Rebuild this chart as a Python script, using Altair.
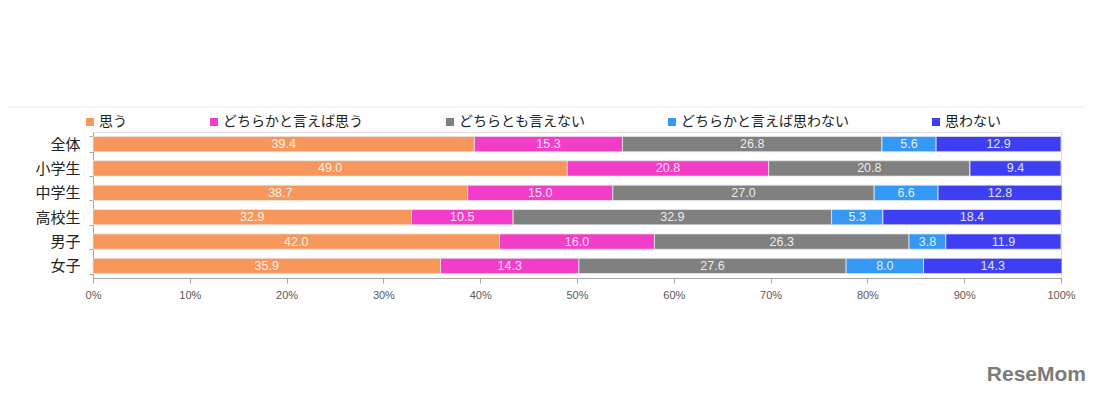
import altair as alt
import pandas as pd

groups = ["全体", "小学生", "中学生", "高校生", "男子", "女子"]
series = ["思う", "どちらかと言えば思う", "どちらとも言えない", "どちらかと言えば思わない", "思わない"]
colors = ["#F7975C", "#F23DC8", "#808080", "#3598F4", "#3E3FF2"]

v_omou = [39.4, 49.0, 38.7, 32.9, 42.0, 35.9]
v_dochira_omou = [15.3, 20.8, 15.0, 10.5, 16.0, 14.3]
v_dochiratomo = [26.8, 20.8, 27.0, 32.9, 26.3, 27.6]
v_dochira_omowanai = [5.6, 0.0, 6.6, 5.3, 3.8, 8.0]
v_omowanai = [12.9, 9.4, 12.8, 18.4, 11.9, 14.3]

all_values = [v_omou, v_dochira_omou, v_dochiratomo, v_dochira_omowanai, v_omowanai]

rows = []
for si, (s, vals) in enumerate(zip(series, all_values)):
    for g, v in zip(groups, vals):
        rows.append({"group": g, "series": s, "order": si, "value": v})
df = pd.DataFrame(rows)

base = alt.Chart(df).transform_stack(
    stack="value", groupby=["group"], as_=["x0", "x1"],
    sort=[alt.SortField("order", order="ascending")]
).transform_calculate(mid="(datum.x0 + datum.x1) / 2")

yenc = alt.Y("group:N", sort=groups, title=None,
             scale=alt.Scale(paddingInner=0.37, paddingOuter=0.18),
             axis=alt.Axis(tickBand="extent", labelFont="Noto Sans CJK JP",
                           labelFontSize=15, labelColor="#222222",
                           labelPadding=9, tickSize=4, tickColor="#a6a6a6",
                           domainColor="#a6a6a6"))

bars = base.mark_bar(stroke="#e6e6e6", strokeWidth=0.8).encode(
    x=alt.X("x0:Q", title=None,
            scale=alt.Scale(domain=[0, 100], nice=False),
            axis=alt.Axis(values=list(range(0, 101, 10)),
                          labelExpr="datum.value + '%'", grid=False, labelFlush=False,
                          labelFont="Liberation Sans", labelFontSize=11,
                          labelColor="#595959", labelPadding=6,
                          tickSize=5, tickColor="#a6a6a6", domainColor="#a6a6a6")),
    x2="x1:Q",
    y=yenc,
    color=alt.Color("series:N", sort=series,
                    scale=alt.Scale(domain=series, range=colors),
                    legend=alt.Legend(title=None, orient="none", legendX=-10, legendY=-17,
                                      direction="horizontal", symbolType="square",
                                      symbolSize=64, symbolStrokeWidth=0,
                                      labelFont="Noto Sans CJK JP", labelFontSize=14,
                                      labelColor="#222222", labelOffset=2,
                                      labelLimit=400, columnPadding=80, padding=0)),
)

labels = base.transform_filter("datum.value > 0").mark_text(
    color="white", opacity=0.85, font="Liberation Sans", fontSize=12.5, baseline="middle"
).encode(
    x="mid:Q",
    y=alt.Y("group:N", sort=groups),
    text=alt.Text("value:Q", format=".1f"),
)

topline = alt.Chart(pd.DataFrame({"k": [0]})).mark_rule(color="#ececec", strokeWidth=1).encode(
    x=alt.value(-93), x2=alt.value(992), y=alt.value(-25)
)

mark_text = alt.Chart(pd.DataFrame({"t": ["ReseMom"]})).mark_text(
    font="Liberation Sans", fontSize=21, fontWeight="bold", color="#7b7b7b",
    align="right", baseline="middle"
).encode(text="t:N", x=alt.value(993), y=alt.value(243))

chart = alt.layer(bars, labels, topline, mark_text).properties(
    width=968, height=146,
    autosize=alt.AutoSizeParams(type="none"),
    padding={"left": 85, "top": 124, "right": 31, "bottom": 111},
).configure_view(stroke=None).configure(background="white")

chart.save("out.html", embed_options={"renderer": "svg", "actions": False})
